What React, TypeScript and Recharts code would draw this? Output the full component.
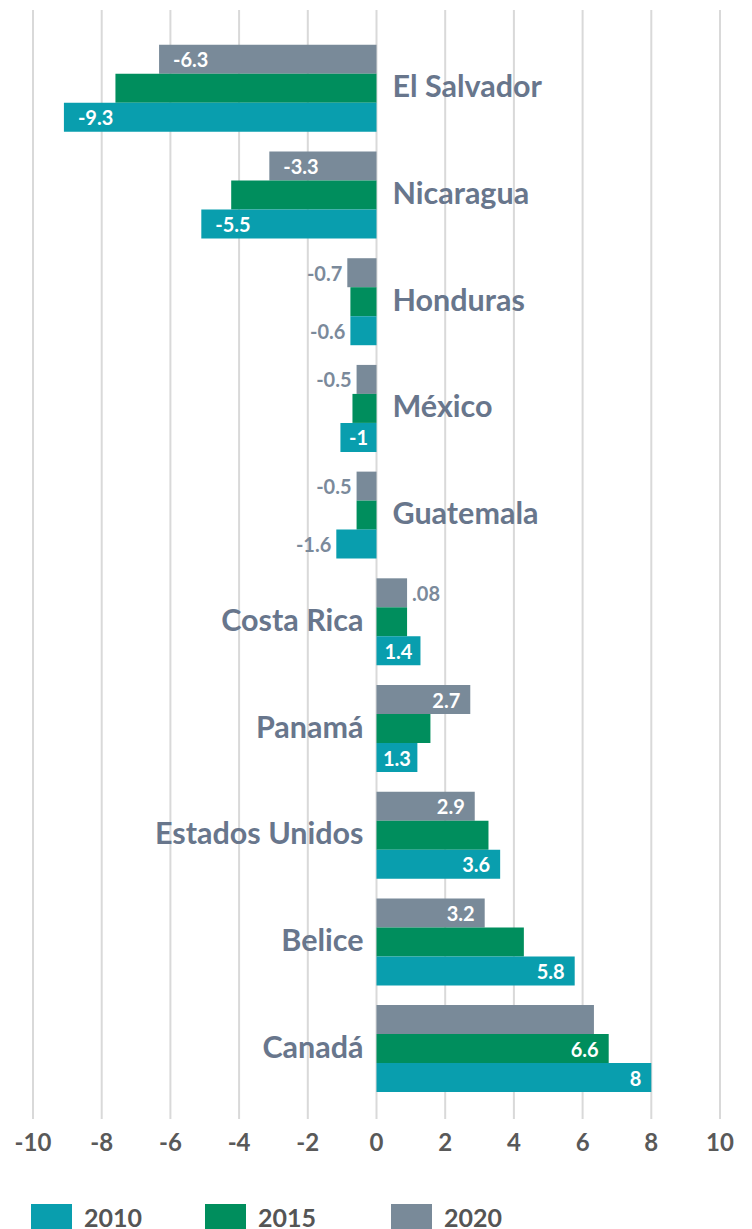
import { Bar, BarChart, CartesianGrid, LabelList, XAxis, YAxis } from 'recharts';

const categories = [
  'El Salvador',
  'Nicaragua',
  'Honduras',
  'México',
  'Guatemala',
  'Costa Rica',
  'Panamá',
  'Estados Unidos',
  'Belice',
  'Canadá',
];

// bar lengths
const values2010 = [-9.1, -5.1, -0.76, -1.05, -1.17, 1.28, 1.19, 3.6, 5.77, 8.0];
const values2015 = [-7.6, -4.23, -0.76, -0.7, -0.58, 0.89, 1.57, 3.26, 4.29, 6.76];
const values2020 = [-6.33, -3.12, -0.85, -0.58, -0.58, 0.89, 2.73, 2.86, 3.15, 6.33];

// printed data labels (null = no label shown)
const labels2010 = ['-9.3', '-5.5', '-0.6', '-1', '-1.6', '1.4', '1.3', '3.6', '5.8', '8'];
const labels2015 = [null, null, null, null, null, null, null, null, null, '6.6'];
const labels2020 = ['-6.3', '-3.3', '-0.7', '-0.5', '-0.5', '.08', '2.7', '2.9', '3.2', null];

const xTicks = [-10, -8, -6, -4, -2, 0, 2, 4, 6, 8, 10];
const seriesNames = ['2010', '2015', '2020'];

const COLOR_2010 = '#099eae';
const COLOR_2015 = '#008e5d';
const COLOR_2020 = '#798a99';
const FONT = 'Lato, "Open Sans", sans-serif';
const LABEL_FONT_SIZE = 20;

const data = categories.map((name, i) => ({
  name,
  v2010: values2010[i],
  v2015: values2015[i],
  v2020: values2020[i],
  l2010: labels2010[i],
  l2015: labels2015[i],
  l2020: labels2020[i],
}));

let measureCtx: CanvasRenderingContext2D | null = null;
function textWidth(text: string, font: string) {
  if (!measureCtx) measureCtx = document.createElement('canvas').getContext('2d');
  if (!measureCtx) return text.length * 10;
  measureCtx.font = font;
  return measureCtx.measureText(text).width;
}

function valueLabel(values: number[]) {
  return (props: any) => {
    const { value, index } = props;
    if (value == null || value === '') return null;
    const x = Number(props.x);
    const y = Number(props.y);
    const width = Number(props.width);
    const height = Number(props.height);
    const v = values[index] ?? (width < 0 ? -1 : 1);
    const left = Math.min(x, x + width);
    const right = Math.max(x, x + width);
    const w = right - left;
    const text = String(value);
    const tw = textWidth(text, `bold ${LABEL_FONT_SIZE}px ${FONT}`);
    const cy = y + height / 2;
    const inside = w >= tw + 6;
    const pad = Math.min(v < 0 ? 14 : 10, (w - tw) / 2);
    let tx: number;
    let anchor: 'start' | 'end';
    if (inside) {
      tx = v < 0 ? left + pad : right - pad;
      anchor = v < 0 ? 'start' : 'end';
    } else {
      tx = v < 0 ? left - 5 : right + 5;
      anchor = v < 0 ? 'end' : 'start';
    }
    return (
      <text
        x={tx}
        y={cy}
        textAnchor={anchor}
        dominantBaseline="central"
        fontFamily={FONT}
        fontWeight={700}
        fontSize={LABEL_FONT_SIZE}
        fill={inside ? '#ffffff' : '#7b8a9b'}
      >
        {text}
      </text>
    );
  };
}

// category names sit beside the zero line, on the side opposite the bars
function categoryLabel(props: any) {
  const { value, index } = props;
  const x = Number(props.x);
  const y = Number(props.y);
  const width = Number(props.width);
  const height = Number(props.height);
  const v = values2015[index] ?? (width < 0 ? -1 : 1);
  const zeroX = v < 0 ? Math.max(x, x + width) : Math.min(x, x + width);
  return (
    <text
      x={v < 0 ? zeroX + 16 : zeroX - 13}
      y={y + height / 2 - 3}
      textAnchor={v < 0 ? 'start' : 'end'}
      dominantBaseline="central"
      fontFamily={FONT}
      fontWeight={700}
      fontSize={30.5}
      fill="#68768c"
    >
      {value}
    </text>
  );
}

const legendColors = [COLOR_2010, COLOR_2015, COLOR_2020];

export default function App() {
  return (
    <div style={{ position: 'absolute', left: 0, top: 0, width: 752, height: 1229, background: '#fff', overflow: 'hidden' }}>
      <BarChart
        width={752}
        height={1229}
        data={data}
        layout="vertical"
        margin={{ top: 10, right: 32, left: 33, bottom: 50 }}
        barGap={0}
        barCategoryGap="9.2%"
      >
        <CartesianGrid horizontal={false} stroke="#d9d9d9" strokeWidth={2} />
        <XAxis
          type="number"
          domain={[-10, 10]}
          ticks={xTicks}
          axisLine={false}
          tickLine={false}
          tickSize={0}
          tickMargin={15}
          height={60}
          interval={0}
          tick={{ fontSize: 24, fontWeight: 700, fill: '#595959', fontFamily: FONT }}
        />
        <YAxis type="category" dataKey="name" hide padding={{ top: 25, bottom: 17 }} />
        <Bar dataKey="v2020" fill={COLOR_2020} isAnimationActive={false}>
          <LabelList dataKey="l2020" content={valueLabel(values2020)} />
        </Bar>
        <Bar dataKey="v2015" fill={COLOR_2015} isAnimationActive={false}>
          <LabelList dataKey="l2015" content={valueLabel(values2015)} />
          <LabelList dataKey="name" content={categoryLabel} />
        </Bar>
        <Bar dataKey="v2010" fill={COLOR_2010} isAnimationActive={false}>
          <LabelList dataKey="l2010" content={valueLabel(values2010)} />
        </Bar>
      </BarChart>
      <div style={{ position: 'absolute', left: 31, top: 1204, display: 'flex', alignItems: 'center', fontFamily: FONT }}>
        {seriesNames.map((s, i) => (
          <div key={s} style={{ display: 'flex', alignItems: 'center', marginRight: i === 0 ? 63 : 75 }}>
            <span style={{ display: 'inline-block', width: 41, height: 26, background: legendColors[i] }} />
            <span style={{ marginLeft: 12, fontSize: 25, fontWeight: 700, color: '#555555', lineHeight: '26px' }}>{s}</span>
          </div>
        ))}
      </div>
    </div>
  );
}
